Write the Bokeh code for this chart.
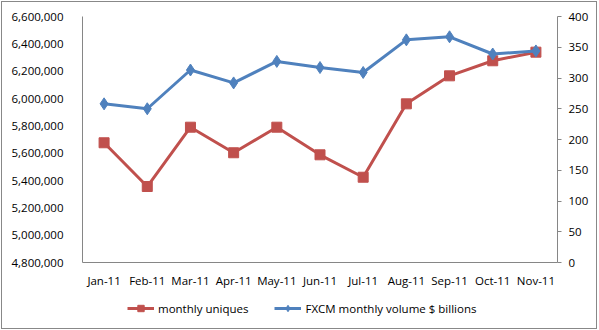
from bokeh.plotting import figure
from bokeh.layouts import column
from bokeh.models import (FactorRange, Range1d, LinearAxis, SingleIntervalTicker,
                          NumeralTickFormatter, Legend, LegendItem)
from bokeh.embed import file_html
from bokeh.resources import INLINE

months = ["Jan-11", "Feb-11", "Mar-11", "Apr-11", "May-11", "Jun-11",
          "Jul-11", "Aug-11", "Sep-11", "Oct-11", "Nov-11"]
monthly_uniques = [5676000, 5356000, 5790000, 5603000, 5790000, 5588000,
                   5424000, 5961000, 6166000, 6276000, 6339000]
fxcm_volume = [258, 250, 313, 292, 327, 317, 309, 362, 367, 339, 344]
series_names = ["monthly uniques", "FXCM monthly volume $ billions"]

RED = "#C0504D"
BLUE = "#4F81BD"
AXIS = "#868686"
FONT = "Open Sans"
FS = "11.5px"

p = figure(width=594, height=296, x_range=FactorRange(*months, range_padding=0),
           y_range=Range1d(4800000, 6600000),
           output_backend="svg", toolbar_location=None,
           min_border_left=80, min_border_right=39, min_border_top=14, min_border_bottom=36)
p.outline_line_color = None
p.xgrid.visible = False
p.ygrid.visible = False
p.background_fill_color = "white"
p.border_fill_color = "white"

p.extra_y_ranges = {"vol": Range1d(0, 400)}

# left axis
ly = p.yaxis[0]
ly.ticker = SingleIntervalTicker(interval=200000)
ly.formatter = NumeralTickFormatter(format="0,0")
ly.axis_line_color = AXIS
ly.major_tick_line_color = None
ly.minor_tick_line_color = None
ly.major_tick_out = 0
ly.major_tick_in = 0
ly.major_label_standoff = 15
ly.major_label_text_font = FONT
ly.major_label_text_font_size = FS
ly.major_label_text_color = "black"

# right axis
ry = LinearAxis(y_range_name="vol", ticker=SingleIntervalTicker(interval=50))
ry.axis_line_color = AXIS
ry.major_tick_line_color = AXIS
ry.minor_tick_line_color = None
ry.major_tick_out = 4
ry.major_tick_in = 0
ry.major_label_standoff = 7
ry.major_label_text_font = FONT
ry.major_label_text_font_size = FS
ry.major_label_text_color = "black"
p.add_layout(ry, "right")

# x axis
xa = p.xaxis[0]
xa.axis_line_color = AXIS
xa.major_tick_line_color = None
xa.major_tick_out = 0
xa.major_tick_in = 0
xa.major_label_standoff = 10
xa.major_label_text_font = FONT
xa.major_label_text_font_size = FS
xa.major_label_text_color = "black"

p.line(months, monthly_uniques, line_color=RED, line_width=3)
p.scatter(months, monthly_uniques, marker="square", size=10,
          fill_color=RED, line_color=RED)
p.line(months, fxcm_volume, line_color=BLUE, line_width=3, y_range_name="vol")
p.scatter(months, fxcm_volume, marker="diamond", size=12,
          fill_color=BLUE, line_color=BLUE, y_range_name="vol")

# legend strip
q = figure(width=594, height=30, output_backend="svg", toolbar_location=None,
           x_range=Range1d(0, 1), y_range=Range1d(0, 1),
           x_axis_location=None, y_axis_location=None,
           min_border_left=0, min_border_right=0, min_border_top=0, min_border_bottom=0)
q.outline_line_color = None
q.xgrid.visible = False
q.ygrid.visible = False
q.border_fill_color = "white"
off = [-10]
lr1 = q.line(off, off, line_color=RED, line_width=3)
sr1 = q.scatter(off, off, marker="square", size=10, fill_color=RED, line_color=RED)
lr2 = q.line(off, off, line_color=BLUE, line_width=3)
sr2 = q.scatter(off, off, marker="diamond", size=10, fill_color=BLUE, line_color=BLUE)

legend = Legend(items=[
    LegendItem(label=series_names[0], renderers=[lr1, sr1]),
    LegendItem(label=series_names[1], renderers=[lr2, sr2]),
], orientation="horizontal", location=(45, 12))
legend.label_text_font = FONT
legend.label_text_font_size = FS
legend.label_text_color = "black"
legend.border_line_color = None
legend.background_fill_alpha = 0
legend.padding = 0
legend.margin = 0
legend.spacing = 26
legend.glyph_width = 27
legend.glyph_height = 16
legend.label_standoff = 4
q.add_layout(legend, "center")

layout = column(p, q, spacing=0,
                styles={"border": "1px solid #888888", "margin-left": "1px", "margin-top": "1px"})

open("out.html", "w").write(file_html(layout, INLINE))
